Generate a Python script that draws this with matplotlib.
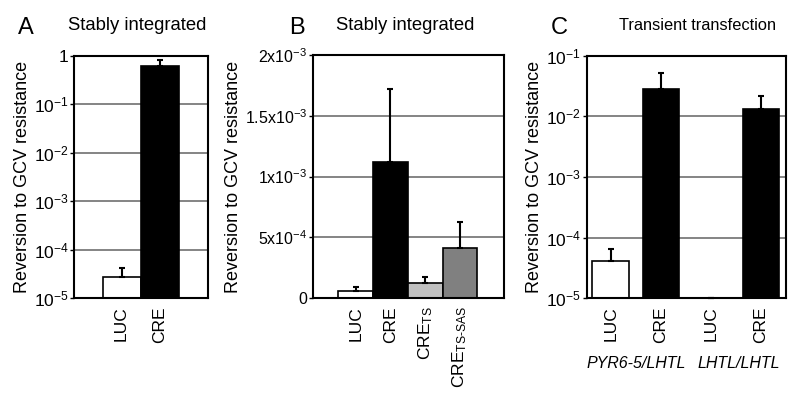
import matplotlib
matplotlib.use("Agg")
import matplotlib.pyplot as plt
import numpy as np

plt.rcParams['font.family'] = ['Liberation Sans', 'DejaVu Sans']
plt.rcParams['mathtext.fontset'] = 'custom'
plt.rcParams['mathtext.rm'] = 'Liberation Sans'
plt.rcParams['mathtext.it'] = 'Liberation Sans:italic'

# panel A: stably integrated (log scale)
a_labels = ["LUC", "CRE"]
a_vals = [2.7e-5, 0.62]
a_err = [4.3e-5, 0.83]
a_colors = ["white", "black"]

# panel B: stably integrated (linear scale)
b_labels = ["LUC", "CRE", r"CRE$\mathregular{_{TS}}$", r"CRE$\mathregular{_{TS\text{-}SAS}}$"]
b_vals = [5.3e-5, 1.117e-3, 1.25e-4, 4.08e-4]
b_err = [8.5e-5, 1.72e-3, 1.67e-4, 6.27e-4]
b_colors = ["white", "black", "#c0c0c0", "#808080"]

# panel C: transient transfection (log scale)
c_labels = ["LUC", "CRE", "LUC", "CRE"]
c_vals = [4.05e-5, 2.86e-2, 1e-5, 1.34e-2]
c_err = [6.4e-5, 5.1e-2, 1e-5, 2.13e-2]
c_colors = ["white", "black", "white", "black"]
c_groups = ["PYR6-5/LHTL", "LHTL/LHTL"]

W, H = 800, 403
fig = plt.figure(figsize=(W / 100, H / 100), dpi=100)


def px_axes(left, right, top, bottom):
    return fig.add_axes([left / W, (H - bottom) / H, (right - left) / W, (bottom - top) / H])


def style(ax):
    for s in ax.spines.values():
        s.set_linewidth(1.5)
    ax.set_axisbelow(True)
    ax.yaxis.grid(True, color="#707070", linewidth=1.2)
    ax.tick_params(axis="y", direction="out", length=3, width=1, labelsize=12.5, pad=1)
    ax.tick_params(axis="x", length=0, labelsize=12.5, pad=6, labelrotation=90)
    ax.minorticks_off()


def draw_bars(ax, x, vals, err, colors, width, bottom=0.0, skip_zero=False):
    for xi, v, c in zip(x, vals, colors):
        if skip_zero and v <= bottom:
            continue
        ax.bar(xi, v - bottom, bottom=bottom, width=width, color=c,
               edgecolor="black", linewidth=1.2, zorder=2)
    vals = np.array(vals)
    up = np.array(err) - vals
    ax.errorbar(x, vals, yerr=[np.zeros_like(vals), up], fmt="none", ecolor="black",
                elinewidth=1.5, capsize=2.5, capthick=1.5, zorder=3, clip_on=False)


def sup(p):
    return r"$\mathregular{10^{%d}}$" % p


# ---- A
axA = px_axes(74.3, 207.7, 55.7, 298.3)
xa = np.arange(len(a_vals))
axA.set_yscale("log")
draw_bars(axA, xa, a_vals, a_err, a_colors, 1.0, bottom=1e-5)
axA.set_ylim(1e-5, 1)
axA.set_xlim(-1.24, 2.26)
axA.set_yticks([1e-5, 1e-4, 1e-3, 1e-2, 1e-1, 1])
axA.set_yticklabels([sup(p) for p in range(-5, 0)] + ["1"])
axA.set_xticks(xa)
axA.set_xticklabels(a_labels)
style(axA)
axA.set_ylabel("Reversion to GCV resistance", fontsize=13, labelpad=2)
fig.text(26 / W, 1 - 28 / H, "A", fontsize=17, ha="center", va="center")
fig.text(137 / W, 1 - 25 / H, "Stably integrated", fontsize=13.3, ha="center", va="center")

# ---- B
axB = px_axes(312.7, 504, 55.3, 297.7)
xb = np.arange(len(b_vals))
draw_bars(axB, xb, b_vals, b_err, b_colors, 1.0)
axB.set_ylim(0, 2e-3)
axB.set_xlim(-1.24, 4.27)
axB.set_yticks([0, 5e-4, 1e-3, 1.5e-3, 2e-3])
axB.set_yticklabels(["0", r"5x$\mathregular{10^{-4}}$", r"1x$\mathregular{10^{-3}}$",
                     r"1.5x$\mathregular{10^{-3}}$", r"2x$\mathregular{10^{-3}}$"])
axB.set_xticks(xb)
axB.set_xticklabels(b_labels)
style(axB)
axB.tick_params(axis="y", labelsize=11.5)
axB.set_ylabel("Reversion to GCV resistance", fontsize=13, labelpad=2)
fig.text(297 / W, 1 - 28 / H, "B", fontsize=17, ha="center", va="center")
fig.text(405 / W, 1 - 25 / H, "Stably integrated", fontsize=13.3, ha="center", va="center")

# ---- C
axC = px_axes(586.7, 786, 55.7, 298.3)
xc = np.arange(len(c_vals))
axC.set_yscale("log")
draw_bars(axC, xc, c_vals, c_err, c_colors, 0.73, bottom=1e-5, skip_zero=True)
axC.set_ylim(1e-5, 1e-1)
axC.set_xlim(-0.48, 3.5)
axC.set_yticks([1e-5, 1e-4, 1e-3, 1e-2, 1e-1])
axC.set_yticklabels([sup(p) for p in range(-5, 0)])
axC.set_xticks(xc)
axC.set_xticklabels(c_labels)
style(axC)
axC.set_ylabel("Reversion to GCV resistance", fontsize=13, labelpad=2)
for g, name in enumerate(c_groups):
    axC.text(2 * g + 0.5 + 0.05 * g, -0.267, name, transform=axC.get_xaxis_transform(),
             fontsize=11.5, style="italic", ha="center", va="center")
fig.text(559 / W, 1 - 28 / H, "C", fontsize=17, ha="center", va="center")
fig.text(698 / W, 1 - 25 / H, "Transient transfection", fontsize=11.8, ha="center", va="center")

fig.savefig("out.png", dpi=100)
